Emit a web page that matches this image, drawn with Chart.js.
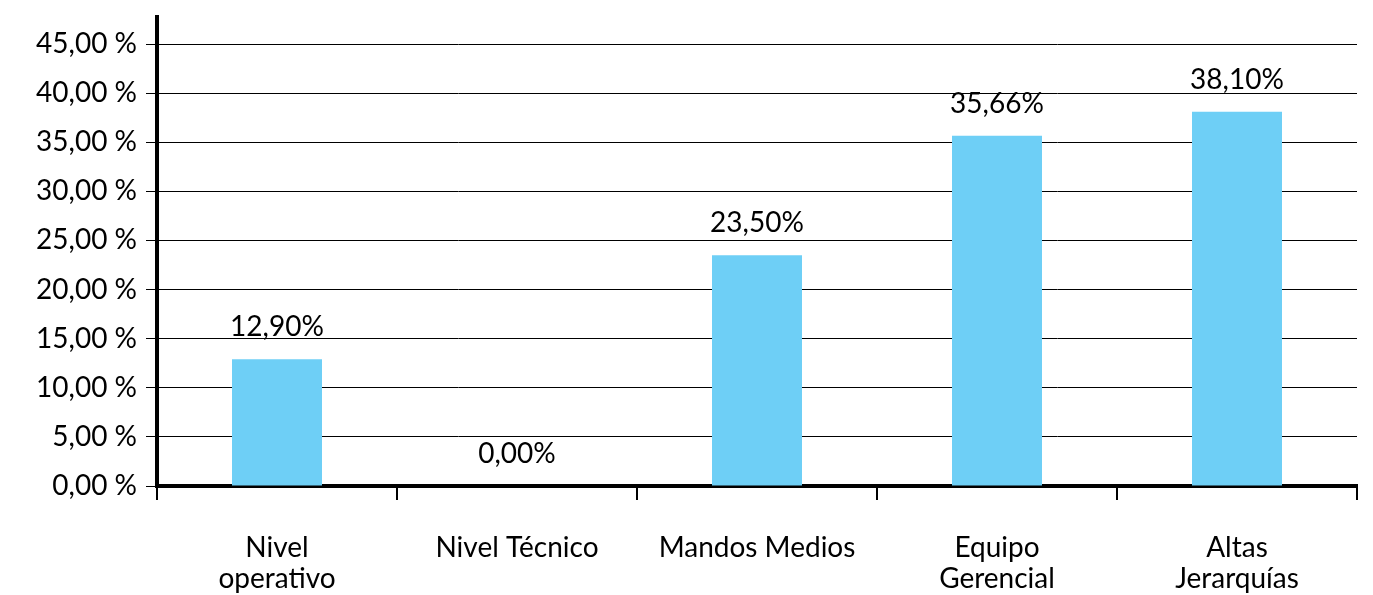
<!DOCTYPE html>
<html>
<head>
<meta charset="utf-8">
<script src="https://cdn.jsdelivr.net/npm/chart.js@4/dist/chart.umd.min.js"></script>
<style>
  body { margin: 0; background: #fff; }
</style>
</head>
<body>
<canvas id="chart" width="1373" height="595"></canvas>
<script>
var categories = [["Nivel", "operativo"], "Nivel Técnico", "Mandos Medios", ["Equipo", "Gerencial"], ["Altas", "Jerarquías"]];
var values = [12.90, 0.00, 23.50, 35.66, 38.10];
var yTicks = [0, 5, 10, 15, 20, 25, 30, 35, 40, 45];

function fmt(v) {
    return v.toFixed(2).replace('.', ',');
}

// draws the value above each bar
var valueLabels = {
    id: 'valueLabels',
    afterDatasetsDraw: function(chart) {
        var ctx = chart.ctx;
        var meta = chart.getDatasetMeta(0);
        ctx.save();
        ctx.font = '28px Lato';
        ctx.fillStyle = '#000';
        ctx.textAlign = 'center';
        ctx.textBaseline = 'alphabetic';
        meta.data.forEach(function(bar, i) {
            ctx.fillText(fmt(values[i]) + '%', bar.x, bar.y - 23);
        });
        ctx.restore();
    }
};

var ctx = document.getElementById("chart").getContext("2d");
var chart = new Chart(ctx, {
    type: 'bar',
    data: {
        labels: categories,
        datasets: [{
            data: values,
            backgroundColor: '#6ecff6',
            barPercentage: 0.75,
            categoryPercentage: 0.5
        }]
    },
    options: {
        responsive: false,
        animation: false,
        layout: { padding: { top: 17, right: 16, left: 0, bottom: 0 } },
        plugins: {
            legend: { display: false },
            tooltip: { enabled: false }
        },
        scales: {
            x: {
                border: { display: true, width: 4, color: '#000' },
                grid: { offset: true, drawOnChartArea: false, drawTicks: true, tickLength: 14, lineWidth: 2, color: '#000' },
                ticks: { color: '#000', font: { family: 'Lato', size: 28, lineHeight: 1.1 }, padding: 33, maxRotation: 0 },
                afterFit: function(scale) { scale.height = 109; }
            },
            y: {
                min: 0,
                max: 47.75,
                border: { display: true, width: 4, color: '#000' },
                grid: { color: '#000', lineWidth: 1, tickLength: 11 },
                afterBuildTicks: function(scale) {
                    scale.ticks = yTicks.map(function(v) { return { value: v }; });
                },
                ticks: {
                    color: '#000',
                    font: { family: 'Lato', size: 28 },
                    padding: 9,
                    callback: function(v) { return fmt(v) + ' %'; }
                },
                afterFit: function(scale) {
                    scale.width = 157;
                    scale.paddingTop = 0;
                    scale.paddingBottom = 0;
                }
            }
        }
    },
    plugins: [valueLabels]
});
</script>
</body>
</html>
